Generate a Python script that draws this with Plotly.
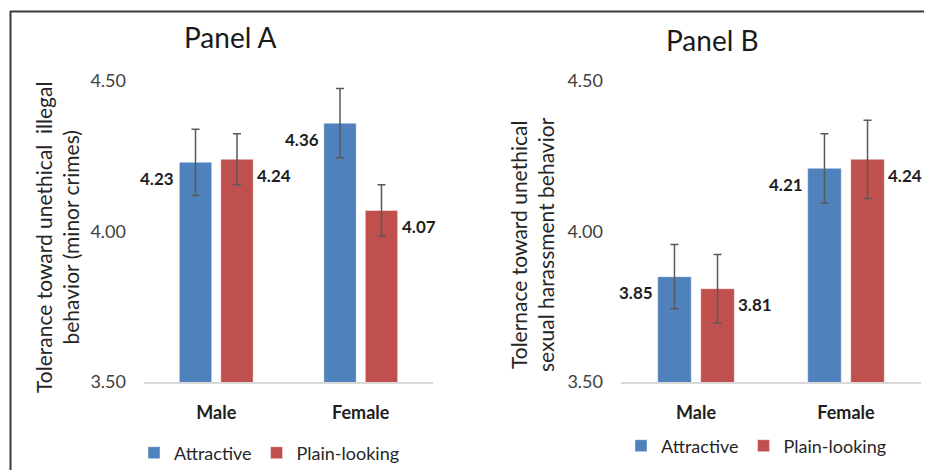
import plotly.graph_objects as go

# ---------------- data ----------------
categories = ["Male", "Female"]
series_names = ["Attractive", "Plain-looking"]

panel_a_attractive = [4.23, 4.36]
panel_a_plain = [4.24, 4.07]
panel_a_attractive_err = [0.11, 0.115]
panel_a_plain_err = [0.085, 0.085]

panel_b_attractive = [3.85, 4.21]
panel_b_plain = [3.81, 4.24]
panel_b_attractive_err = [0.107, 0.115]
panel_b_plain_err = [0.114, 0.13]

y_ticks = [3.50, 4.00, 4.50]
y_tick_labels = ["3.50", "4.00", "4.50"]
panel_titles = ["Panel A", "Panel B"]
y_titles = [
    "Tolerance toward unethical  illegal<br>behavior (minor crimes)",
    "Tolernace toward unethical<br>sexual harassment behavior",
]

# ---------------- style ----------------
# page body has an 8px margin, so the figure is drawn 8px in from the window edge
OFF = 8
W, H = 932 - OFF, 470 - OFF
FONT = "Lato"
BLUE = "#4f81bd"
RED = "#c0504d"
TXT = "#1e1e1e"
ERR = "#595959"

def px_x(p):
    return (p - OFF) / W

def px_y(p):
    return (H + OFF - p) / H

fig = go.Figure()

panels = [
    dict(att=panel_a_attractive, pl=panel_a_plain, atte=panel_a_attractive_err,
         ple=panel_a_plain_err, xa="x", ya="y", leg="legend"),
    dict(att=panel_b_attractive, pl=panel_b_plain, atte=panel_b_attractive_err,
         ple=panel_b_plain_err, xa="x2", ya="y2", leg="legend2"),
]

annotations = []
for p in panels:
    for name, vals, errs, col in [
        (series_names[0], p["att"], p["atte"], BLUE),
        (series_names[1], p["pl"], p["ple"], RED),
    ]:
        fig.add_trace(go.Bar(
            x=categories, y=vals, name=name,
            xaxis=p["xa"], yaxis=p["ya"], legend=p["leg"],
            marker=dict(color=col, line=dict(color="rgba(255,255,255,0.45)", width=1)),
            error_y=dict(type="data", array=errs, visible=True,
                         color=ERR, thickness=1.5, width=4),
            hoverinfo="skip",
        ))
    # data labels
    for i, v in enumerate(p["att"]):
        annotations.append(dict(
            x=i - 0.2545, y=v, xref=p["xa"], yref=p["ya"], text=f"{v:.2f}",
            showarrow=False, xanchor="right", yanchor="middle", xshift=-3, yshift=-16,
            font=dict(family=FONT, size=17, color=TXT, weight="bold")))
    for i, v in enumerate(p["pl"]):
        annotations.append(dict(
            x=i + 0.2545, y=v, xref=p["xa"], yref=p["ya"], text=f"{v:.2f}",
            showarrow=False, xanchor="left", yanchor="middle", xshift=2, yshift=-16,
            font=dict(family=FONT, size=17, color=TXT, weight="bold")))

# panel titles
for txt, cx, cy in [(panel_titles[0], 230, 37), (panel_titles[1], 712, 40)]:
    annotations.append(dict(x=px_x(cx), y=px_y(cy), xref="paper", yref="paper",
                            text=txt, showarrow=False, xanchor="center", yanchor="middle",
                            font=dict(family=FONT, size=28, color="#1a1a1a")))
# y-axis titles
for txt, cx, cy in [(y_titles[0], 57, 238), (y_titles[1], 532, 245)]:
    annotations.append(dict(x=px_x(cx), y=px_y(cy), xref="paper", yref="paper",
                            text=txt, showarrow=False, textangle=-90,
                            xanchor="center", yanchor="middle",
                            font=dict(family=FONT, size=21, color="#262626")))

ydom = [px_y(382), px_y(81)]
xaxis_common = dict(type="category", range=[-0.5, 1.5], showline=True,
                    linecolor="#d9d9d9", linewidth=1.5, showgrid=False,
                    zeroline=False, ticks="", ticklabelstandoff=14,
                    tickfont=dict(family=FONT, size=18, color=TXT, weight="bold"),
                    fixedrange=True)
yaxis_common = dict(range=[3.5, 4.5], tickvals=y_ticks, ticktext=y_tick_labels,
                    showline=False, showgrid=False, zeroline=False, ticks="",
                    ticklabelstandoff=17,
                    tickfont=dict(family=FONT, size=18, color="#404040"),
                    fixedrange=True)

fig.update_layout(
    width=W, height=H,
    margin=dict(l=0, r=0, t=0, b=0, autoexpand=False),
    paper_bgcolor="white", plot_bgcolor="white",
    barmode="group", bargap=0.426, bargroupgap=0.22,
    font=dict(family=FONT, color=TXT),
    xaxis=dict(domain=[px_x(144), px_x(433)], anchor="y", **xaxis_common),
    yaxis=dict(domain=ydom, anchor="x", **yaxis_common),
    xaxis2=dict(domain=[px_x(621), px_x(921)], anchor="y2", **xaxis_common),
    yaxis2=dict(domain=ydom, anchor="x2", **yaxis_common),
    legend=dict(orientation="h", x=px_x(134), y=px_y(453), xanchor="left",
                yanchor="middle", font=dict(family=FONT, size=18, color="#262626"),
                bgcolor="rgba(0,0,0,0)"),
    legend2=dict(orientation="h", x=px_x(621), y=px_y(446), xanchor="left",
                 yanchor="middle", font=dict(family=FONT, size=18, color="#262626"),
                 bgcolor="rgba(0,0,0,0)"),
    annotations=annotations,
    shapes=[
        dict(type="line", xref="paper", yref="paper", x0=px_x(10), x1=1,
             y0=px_y(11.5), y1=px_y(11.5), line=dict(color="#3a3a3a", width=2)),
        dict(type="line", xref="paper", yref="paper", x0=px_x(10.5), x1=px_x(10.5),
             y0=px_y(11), y1=0, line=dict(color="#3a3a3a", width=2)),
    ],
)

fig.write_html("out.html")
